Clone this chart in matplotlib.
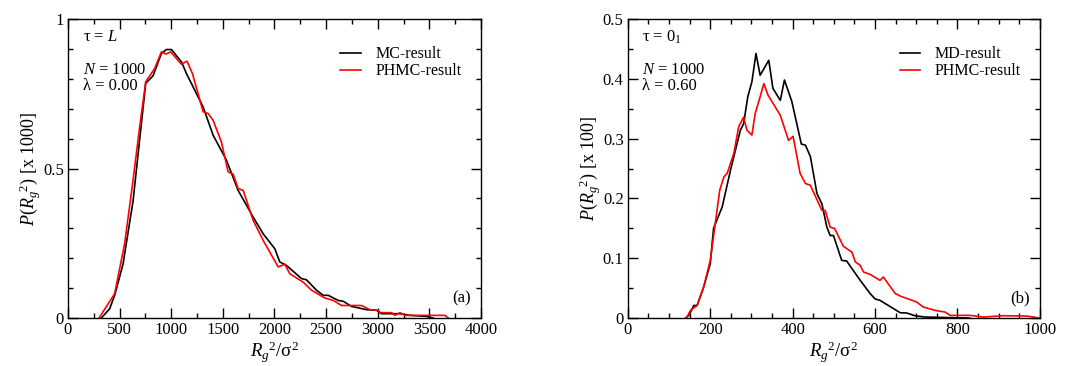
import matplotlib
matplotlib.use('Agg')
import matplotlib.pyplot as plt
from matplotlib.ticker import MultipleLocator

plt.rcParams['font.family'] = ['Liberation Serif', 'DejaVu Serif']
plt.rcParams['mathtext.fontset'] = 'custom'
plt.rcParams['mathtext.rm'] = 'Liberation Serif'
plt.rcParams['mathtext.it'] = 'Liberation Serif:italic'
plt.rcParams['font.size'] = 12

# panel (a): tau = L, lambda = 0.00
mc_x = [323, 404, 452, 533, 630, 753, 824, 905, 953, 1002, 1099, 1147, 1244, 1309, 1405,
        1535, 1648, 1793, 1890, 2003, 2052, 2116, 2262, 2310, 2407, 2472, 2520, 2617, 2666,
        2746, 2892, 2989, 3037, 3215, 3312, 3473, 3538]
mc_y = [0, 0.031, 0.076, 0.18, 0.39, 0.785, 0.81, 0.885, 0.898, 0.898, 0.857, 0.818, 0.751,
        0.706, 0.612, 0.528, 0.427, 0.338, 0.282, 0.232, 0.1875, 0.176, 0.132, 0.128, 0.093,
        0.076, 0.076, 0.059, 0.056, 0.039, 0.028, 0.026, 0.0145, 0.0145, 0.009, 0.0056, 0]

phmc_a_x = [300, 452, 549, 630, 695, 753, 840, 905, 947, 995, 1099, 1153, 1205, 1309, 1357,
            1405, 1486, 1551, 1600, 1648, 1697, 1793, 1890, 2036, 2100, 2149, 2278, 2359, 2488,
            2569, 2650, 2843, 2924, 3005, 3021, 3134, 3166, 3215, 3263, 3651, 3683]
phmc_a_y = [0, 0.081, 0.249, 0.46, 0.64, 0.79, 0.835, 0.89, 0.883, 0.89, 0.849, 0.859, 0.818,
            0.69, 0.684, 0.662, 0.589, 0.489, 0.481, 0.433, 0.427, 0.327, 0.26, 0.171, 0.18,
            0.148, 0.12, 0.093, 0.067, 0.059, 0.042, 0.042, 0.028, 0.026, 0.018, 0.018, 0.009,
            0.018, 0.009, 0.009, 0]

# panel (b): tau = 0_1, lambda = 0.60
md_x = [140, 148, 160, 168, 184, 200, 208, 229, 249, 273, 281, 291, 301, 311, 321, 342, 352,
        370, 380, 398, 421, 431, 443, 459, 471, 483, 491, 499, 519, 531, 564, 588, 600, 612,
        636, 661, 677, 697, 721, 830]
md_y = [0, 0.0045, 0.021, 0.021, 0.052, 0.091, 0.15, 0.186, 0.247, 0.314, 0.325, 0.37, 0.395,
        0.4425, 0.406, 0.431, 0.384, 0.364, 0.398, 0.362, 0.291, 0.289, 0.27, 0.208, 0.191,
        0.152, 0.138, 0.138, 0.0965, 0.0954, 0.063, 0.041, 0.032, 0.0296, 0.0195, 0.0089,
        0.0084, 0.0039, 0.0017, 0]

phmc_b_x = [142, 152, 168, 184, 200, 223, 233, 241, 257, 269, 281, 289, 301, 309, 321, 330,
            340, 370, 390, 401, 418, 431, 443, 471, 479, 491, 502, 523, 544, 552, 564, 572,
            588, 612, 620, 649, 661, 701, 717, 746, 770, 782, 830, 863, 911, 969, 1000]
phmc_b_y = [0, 0.0128, 0.021, 0.052, 0.0965, 0.214, 0.236, 0.242, 0.275, 0.32, 0.336, 0.314,
            0.306, 0.342, 0.37, 0.392, 0.373, 0.339, 0.297, 0.304, 0.242, 0.225, 0.222, 0.18,
            0.18, 0.152, 0.1496, 0.12, 0.11, 0.094, 0.088, 0.077, 0.073, 0.063, 0.0686, 0.041,
            0.0368, 0.0268, 0.0184, 0.0128, 0.01, 0.0045, 0.0045, 0.0017, 0.0039, 0.0033, 0.0]

fig = plt.figure(figsize=(10.77, 3.66), dpi=100)
ax1 = fig.add_axes([0.0631, 0.131, 0.3835, 0.817])
ax2 = fig.add_axes([0.583, 0.131, 0.3825, 0.817])


def style_axes(ax):
    for s in ax.spines.values():
        s.set_linewidth(1.0)
    ax.tick_params(which='both', direction='in', top=True, right=True, width=1.0,
                   labelsize=12, pad=3)
    ax.tick_params(which='major', length=7)
    ax.tick_params(which='minor', length=3.5)


ax1.plot(mc_x, mc_y, color='black', lw=1.2, label='MC-result')
ax1.plot(phmc_a_x, phmc_a_y, color='red', lw=1.2, label='PHMC-result')
ax1.set_xlim(0, 4000)
ax1.set_ylim(0, 1)
ax1.xaxis.set_major_locator(MultipleLocator(500))
ax1.xaxis.set_minor_locator(MultipleLocator(250))
ax1.yaxis.set_major_locator(MultipleLocator(0.5))
ax1.yaxis.set_minor_locator(MultipleLocator(0.1))
ax1.set_yticks([0, 0.5, 1])
ax1.set_yticklabels(['0', '0.5', '1'])
style_axes(ax1)
ax1.set_xlabel(r'$R_g{}^{2}$/σ$^{2}$', fontsize=13.5, labelpad=1)
ax1.set_ylabel(r'$P(R_g{}^{2})$ [x 1000]', fontsize=13, labelpad=0)
ax1.text(0.036, 0.94, r'τ = $L$', transform=ax1.transAxes, fontsize=12, va='center')
ax1.text(0.036, 0.83, r'$N$ = 1000', transform=ax1.transAxes, fontsize=12, va='center')
ax1.text(0.036, 0.776, 'λ = 0.00', transform=ax1.transAxes, fontsize=12, va='center')
ax1.text(0.975, 0.067, '(a)', transform=ax1.transAxes, fontsize=12, va='center', ha='right')
ax1.legend(loc='upper left', bbox_to_anchor=(0.64, 0.935), frameon=False, fontsize=11.5,
           handlelength=1.3, handletextpad=0.9, labelspacing=0.05, borderpad=0)

ax2.plot(md_x, md_y, color='black', lw=1.2, label='MD-result')
ax2.plot(phmc_b_x, phmc_b_y, color='red', lw=1.2, label='PHMC-result')
ax2.set_xlim(0, 1000)
ax2.set_ylim(0, 0.5)
ax2.xaxis.set_major_locator(MultipleLocator(200))
ax2.xaxis.set_minor_locator(MultipleLocator(50))
ax2.yaxis.set_major_locator(MultipleLocator(0.1))
ax2.yaxis.set_minor_locator(MultipleLocator(0.05))
ax2.set_yticks([0, 0.1, 0.2, 0.3, 0.4, 0.5])
ax2.set_yticklabels(['0', '0.1', '0.2', '0.3', '0.4', '0.5'])
style_axes(ax2)
ax2.set_xlabel(r'$R_g{}^{2}$/σ$^{2}$', fontsize=13.5, labelpad=1)
ax2.set_ylabel(r'$P(R_g{}^{2})$ [x 100]', fontsize=13, labelpad=0)
ax2.text(0.034, 0.94, r'τ = $\mathrm{0}_\mathrm{1}$', transform=ax2.transAxes, fontsize=12, va='center')
ax2.text(0.034, 0.83, r'$N$ = 1000', transform=ax2.transAxes, fontsize=12, va='center')
ax2.text(0.034, 0.776, 'λ = 0.60', transform=ax2.transAxes, fontsize=12, va='center')
ax2.text(0.975, 0.067, '(b)', transform=ax2.transAxes, fontsize=12, va='center', ha='right')
ax2.legend(loc='upper left', bbox_to_anchor=(0.64, 0.935), frameon=False, fontsize=11.5,
           handlelength=1.3, handletextpad=0.9, labelspacing=0.05, borderpad=0)

fig.savefig('out.png', dpi=100)
